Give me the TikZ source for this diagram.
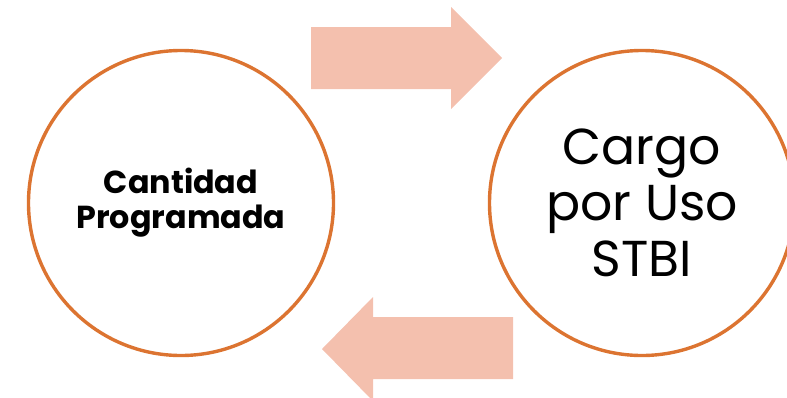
\documentclass[tikz,border=0pt]{standalone}
\usepackage{fontspec}
\setmainfont{Poppins}
\usepackage{xcolor}
\usepackage{tikz}
\usetikzlibrary{shapes.geometric}
\definecolor{ringorange}{HTML}{DC7431}
\definecolor{arrowpink}{HTML}{F4C0AE}
\tikzstyle{ring} = [circle, minimum size=305pt, inner sep=0pt, draw=ringorange, line width=3.4pt, fill=white, align=center]
\tikzstyle{blockarrow} = [fill=arrowpink, draw=none]

\begin{document}
\begin{tikzpicture}[x=1pt,y=-1pt]
	\useasboundingbox (0,0) rectangle (787,397);
	\node (cantidad) [ring, font=\fontsize{31.8}{35}\selectfont\bfseries] at (181,203) {Cantidad\\Programada};
	\node (cargo) [ring, font=\fontsize{50.5}{56}\selectfont] at (642,203) {Cargo\\por Uso\\STBI};
	\fill [blockarrow] (311,27) -- (451,27) -- (451,7) -- (502,58) -- (451,109) -- (451,89) -- (311,89) -- cycle;
	\fill [blockarrow] (513,317) -- (373,317) -- (373,297) -- (322,349) -- (373,401) -- (373,379) -- (513,379) -- cycle;
\end{tikzpicture}
\end{document}
